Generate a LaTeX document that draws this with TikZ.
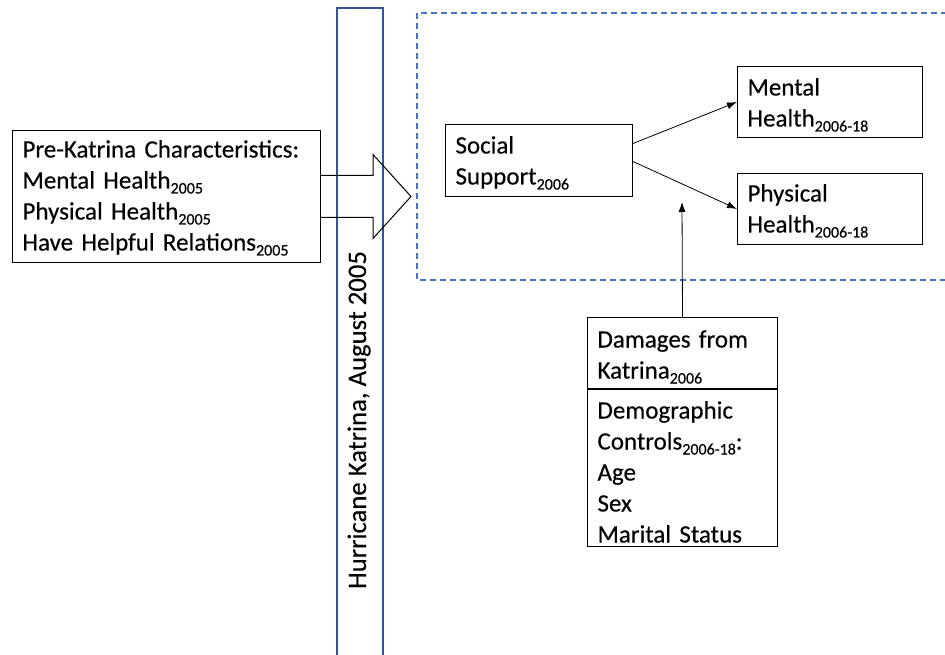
\documentclass[tikz,border=0pt]{standalone}
\usepackage{fontspec}
\setmainfont[FakeBold=0.3]{Carlito}
\usetikzlibrary{arrows.meta}
\definecolor{wordblue}{HTML}{4472C4}
\definecolor{darkblue}{HTML}{2F5597}
\newcommand{\sub}[1]{\raisebox{-0.2em}{\fontsize{16}{16}\selectfont #1}}
\tikzset{
	box/.style={draw, line width=1pt, anchor=north west, inner xsep=10pt, inner ysep=0pt, align=left, font=\fontsize{25}{31}\selectfont},
	link/.style={->, line width=0.8pt},
}

\begin{document}
\begin{tikzpicture}[x=1pt, y=-1pt, >={Latex[length=10pt,width=7pt]}]
	% Dimensioni della freccia grande
	\def\shaft{21}
	\def\head{42}
	
	\useasboundingbox (0,0) rectangle (945,655);
	
	% --- Uragano ---
	\draw[darkblue, line width=1.2pt] (337,8) rectangle (383,700);
	\node[rotate=90, anchor=base, font=\fontsize{26.7}{31}\selectfont] (hurricane) at (366,420) {Hurricane Katrina, August 2005};
	
	% --- Riquadro tratteggiato ---
	\draw[wordblue, line width=1.6pt, dash pattern=on 6pt off 4pt] (417,13) rectangle (950,280);
	
	% --- Nodi ---
	\node[box, text width=288pt, text height=27pt, text depth=105pt] (pre) at (12,130)
		{Pre-Katrina Characteristics:\\Mental Health\sub{2005}\\Physical Health\sub{2005}\\Have Helpful Relations\sub{2005}};
	\node[box, text width=167pt, text height=29pt, text depth=43pt] (social) at (445,124)
		{Social\\Support\sub{2006}};
	\node[box, text width=165pt, text height=29pt, text depth=42pt] (mental) at (737,66)
		{Mental\\Health\sub{2006-18}};
	\node[box, text width=165pt, text height=28pt, text depth=43pt] (physical) at (737,173)
		{Physical\\Health\sub{2006-18}};
	\node[box, text width=170pt, text height=30pt, text depth=41pt] (damages) at (587,317)
		{Damages from\\Katrina\sub{2006}};
	\node[box, text width=170pt, text height=29pt, text depth=128pt] (controls) at (damages.south west)
		{Demographic\\Controls\sub{2006-18}:\\Age\\Sex\\Marital Status};
	
	% --- Freccia grande ---
	\draw[line width=1pt, line join=miter] (pre.east) ++(0,-\shaft) -- ++(52,0) -- ++(0,\shaft-\head)
		-- ++(38,\head) -- ++(-38,\head) -- ++(0,\shaft-\head) -- ++(-52,0);
	
	% --- Frecce ---
	\coordinate (target) at (682,202);
	\draw[link] ([yshift=17pt]social.east) -- (mental.west);
	\draw[link] ([yshift=-1pt]social.east) -- (physical.west);
	\draw[link] (damages.north) -- (target);
\end{tikzpicture}
\end{document}
